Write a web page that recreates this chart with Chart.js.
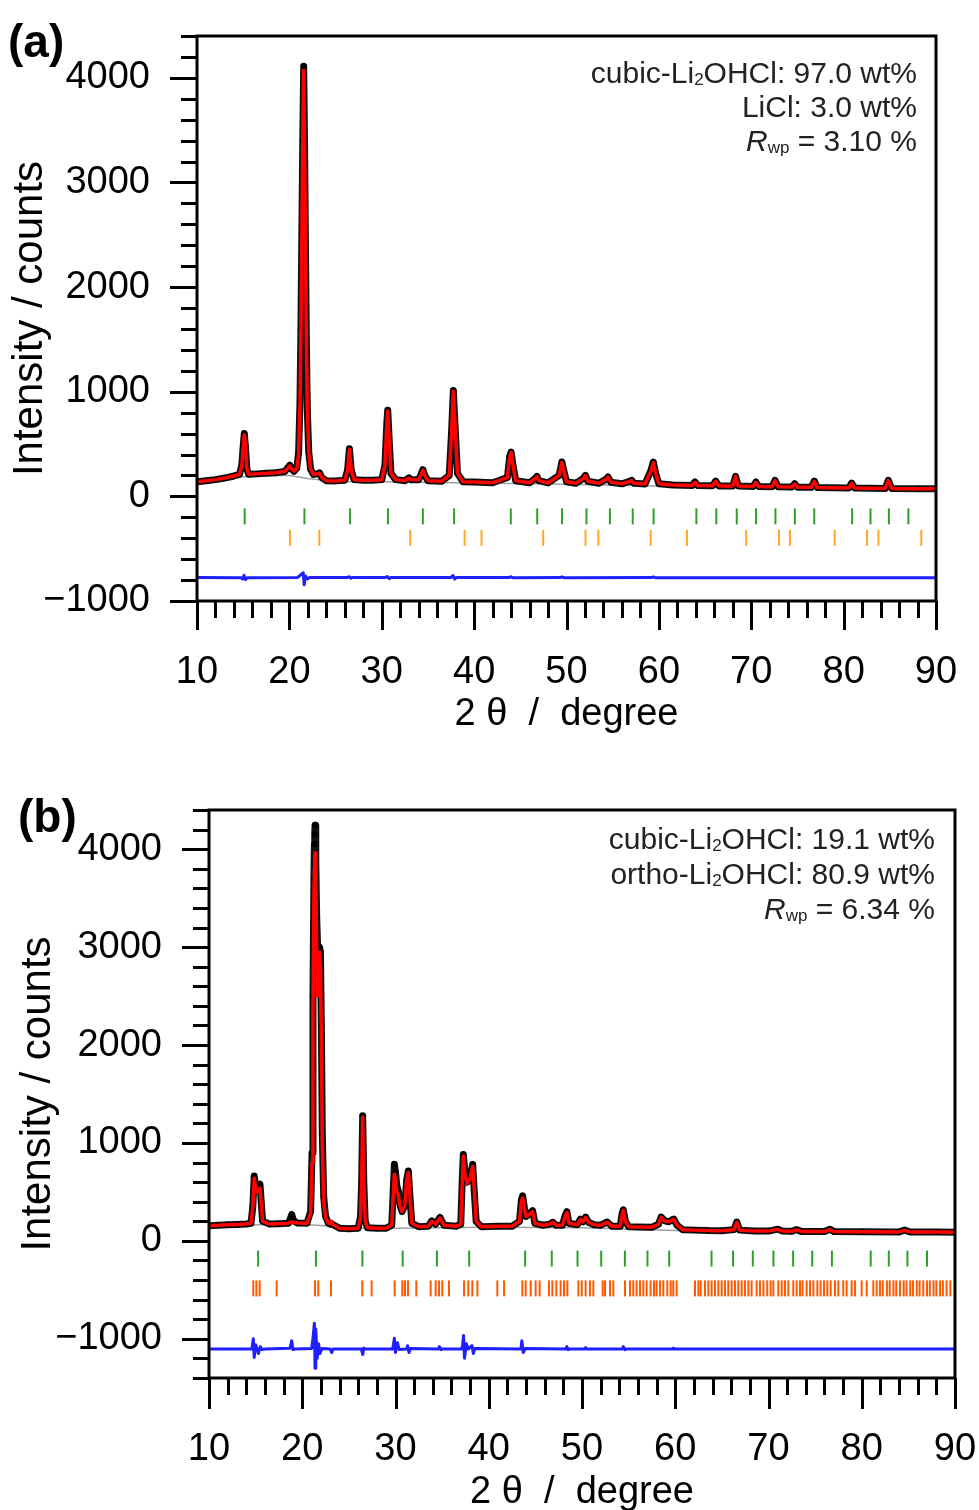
<!DOCTYPE html>
<html><head><meta charset="utf-8">
<script src="https://cdn.jsdelivr.net/npm/chart.js@4.4.1/dist/chart.umd.min.js"></script>
<style>
html,body{margin:0;padding:0;background:#fff;}
body{width:979px;height:1510px;position:relative;overflow:hidden;}
canvas{position:absolute;left:0;}
#ca{top:0;}
#cb{top:765px;}
</style></head><body>
<canvas id="ca" width="979" height="745"></canvas>
<canvas id="cb" width="979" height="745"></canvas>
<script>
// ---------------- DATA : axes ----------------
const xTickValues = [10, 20, 30, 40, 50, 60, 70, 80, 90];
const xTickLabels = ['10', '20', '30', '40', '50', '60', '70', '80', '90'];
const yTickValuesA = [-1000, 0, 1000, 2000, 3000, 4000];
const yTickLabelsA = ['\u22121000', '0', '1000', '2000', '3000', '4000'];
const yTickValuesB = [-1000, 0, 1000, 2000, 3000, 4000];
const yTickLabelsB = ['\u22121000', '0', '1000', '2000', '3000', '4000'];

// ---------------- DATA : panel (a) ----------------
const twoThetaA = [10.0,11.0,12.0,13.0,14.0,14.6,14.85,15.0,15.12,15.25,15.4,15.6,16.5,17.5,18.5,19.5,19.85,20.05,20.25,20.5,20.8,21.0,21.15,21.25,21.35,21.45,21.55,21.65,21.75,21.85,21.95,22.1,22.3,22.6,23.0,23.25,23.5,24.0,25.0,26.0,26.3,26.5,26.7,27.0,28.0,29.0,30.0,30.35,30.55,30.65,30.8,31.0,31.5,32.5,32.95,33.2,34.0,34.3,34.45,34.65,35.0,36.5,37.3,37.55,37.75,37.95,38.2,38.8,40.0,42.0,43.6,43.85,44.0,44.2,44.5,46.0,46.6,46.8,47.0,48.0,49.2,49.5,49.7,50.0,51.0,51.8,52.05,52.3,53.5,54.3,54.5,54.8,56.0,56.85,57.05,57.3,58.5,59.15,59.4,59.65,60.0,61.5,63.6,63.9,64.2,65.8,66.15,66.5,68.0,68.3,68.6,70.2,70.5,70.8,72.25,72.57,72.9,74.4,74.7,75.0,76.5,76.83,77.15,80.55,80.87,81.2,84.5,84.84,85.2,88.0,90.0];
const obsA = [140,150,160,175,195,210,300,480,600,470,260,212,215,220,225,238,275,298,262,240,270,420,900,1600,2500,3400,4110,3300,2300,1400,800,420,260,210,215,225,180,150,148,155,250,456,250,160,155,155,160,300,700,822,550,220,160,150,178,158,160,220,255,200,150,145,200,600,1013,650,220,140,138,130,180,380,424,300,150,130,170,191,150,128,200,328,250,140,125,170,201,145,125,165,185,135,120,145,153,125,118,250,328,220,120,108,104,137,104,102,146,100,98,191,100,95,137,94,92,153,91,89,121,88,86,146,85,80,127,79,76,153,75,72,73];
const calcA = [140,150,160,175,195,210,290,470,590,480,260,212,215,220,225,238,270,292,262,240,265,410,880,1580,2480,3380,4070,3320,2320,1420,810,420,260,210,215,222,180,150,148,155,245,450,250,160,155,155,160,295,690,815,560,220,160,150,175,158,160,218,250,200,150,145,200,590,1005,660,220,140,138,130,180,375,420,300,150,130,168,188,150,128,198,325,250,140,125,168,198,145,125,163,183,135,120,143,150,125,118,245,322,222,120,108,104,135,104,102,143,100,98,188,100,95,134,94,92,150,91,89,119,88,86,143,85,80,124,79,76,150,75,72,73];
const bgThetaA = [10,14,17,20,22,25,30,40,50,60,70,80,90];
const bgA = [135,180,200,200,170,142,140,128,116,100,88,76,68];
const diffThetaA = [10,14.8,14.95,15.1,15.25,15.45,20.9,21.35,21.5,21.6,21.75,21.95,22.2,26.3,26.5,26.65,26.8,30.4,30.6,30.8,31.0,37.5,37.7,37.9,38.1,43.8,44.0,44.2,49.3,49.5,49.7,59.2,59.4,59.6,90];
const diffA = [-775,-778,-790,-755,-795,-778,-775,-740,-730,-845,-760,-790,-775,-775,-768,-782,-775,-775,-766,-786,-775,-775,-756,-790,-775,-776,-768,-778,-776,-770,-777,-776,-770,-777,-777];
const cubicTicksA = [15.16,21.63,26.57,30.67,34.45,37.83,43.97,46.83,49.52,52.16,54.7,57.17,59.43,64.06,66.22,68.43,70.52,72.62,74.72,76.82,80.92,82.91,84.9,87.01];
const liclTicksA = [20.06,23.24,33.09,38.97,40.8,47.48,52.06,53.45,59.11,63.04,69.45,73.0,74.19,79.03,82.54,83.77,88.41];
const cubicRowA = -191;
const liclRowA = -397;

// ---------------- DATA : panel (b) ----------------
const twoThetaB = [10.0,11.0,12.0,13.0,14.0,14.5,14.7,14.85,15.0,15.15,15.3,15.47,15.6,15.75,16.5,17.5,18.5,18.7,18.87,19.05,19.5,20.5,20.9,21.05,21.15,21.25,21.3,21.34,21.37,21.45,21.55,21.65,21.75,21.85,21.95,22.05,22.15,22.3,22.5,22.8,23.0,23.16,23.3,24.0,25.0,26.0,26.25,26.37,26.48,26.6,26.75,27.0,28.0,29.0,29.6,29.75,29.88,30.0,30.15,30.3,30.5,30.7,31.0,31.2,31.38,31.55,31.75,32.5,33.5,33.9,34.3,34.77,35.2,36.5,37.0,37.15,37.27,37.45,37.7,38.0,38.28,38.45,38.65,39.2,41.0,42.5,43.3,43.5,43.63,43.8,44.0,44.4,44.7,44.95,45.8,46.5,46.87,47.2,47.9,48.2,48.38,48.6,49.5,49.84,50.1,50.38,50.7,51.3,52.0,52.7,53.2,54.1,54.3,54.43,54.65,55.0,56.0,57.5,58.2,58.48,58.9,59.3,59.83,60.2,60.8,62.0,63.5,65.0,66.3,66.6,66.9,68.5,70.0,71.0,71.5,72.5,73.0,73.5,76.0,76.6,77.0,80.0,84.0,84.6,85.2,88.0,90.0];
const obsB = [155,160,165,168,172,180,350,663,560,520,560,578,400,200,172,175,180,220,270,210,182,180,300,900,2500,3700,4050,4152,4244,3900,3300,3000,2950,3000,2950,2200,1100,450,250,180,170,175,165,130,125,130,250,600,1279,600,200,135,130,130,160,500,782,700,560,510,360,300,360,620,714,450,180,145,150,205,170,240,160,150,170,600,883,700,600,650,782,500,200,145,150,150,200,420,460,350,250,280,308,180,160,170,190,160,160,260,298,180,165,223,195,243,190,165,160,193,150,150,280,318,200,145,142,140,170,243,205,195,223,160,115,110,105,104,115,193,110,102,100,120,100,98,115,97,95,118,95,93,92,110,91,90,88];
const calcB = [155,160,165,168,172,180,340,640,540,500,520,540,380,200,172,175,180,190,195,190,182,180,280,800,2300,3500,3800,3900,3960,3700,2900,2500,2900,2950,2800,2100,1000,400,240,180,175,200,168,130,125,130,240,580,1265,620,200,135,130,130,160,450,680,620,500,470,350,300,360,620,700,460,180,145,150,200,170,235,160,150,170,560,866,680,580,640,760,520,200,145,150,150,200,400,440,340,250,275,300,180,160,170,190,160,160,255,290,180,165,220,195,240,190,165,160,190,150,150,270,310,200,145,142,140,170,240,200,195,220,160,115,110,105,104,115,190,110,102,100,118,100,98,113,97,95,115,95,93,92,108,91,90,88];
const bgThetaB = [10,15,20,23,26,30,40,50,60,70,80,90];
const bgB = [150,165,170,150,128,128,140,135,105,95,90,86];
const diffThetaB = [10,14.6,14.75,14.85,15.0,15.3,15.5,15.7,16.0,18.7,18.87,19.0,19.2,21.0,21.15,21.3,21.37,21.45,21.6,21.75,21.9,22.1,23.0,23.16,23.3,26.35,26.48,26.6,26.75,29.7,29.88,30.0,30.2,30.4,31.2,31.3,31.45,31.6,34.6,34.7,34.9,35.0,37.1,37.2,37.3,37.4,37.6,37.8,38.2,38.35,38.5,43.45,43.55,43.7,43.9,48.25,48.38,48.5,48.6,50.25,50.38,50.5,54.3,54.43,54.6,54.7,59.7,59.8,59.9,90];
const diffB = [-1105,-1105,-1000,-1190,-1060,-1150,-1080,-1110,-1105,-1095,-1020,-1110,-1105,-1100,-1000,-840,-1300,-900,-1200,-1050,-1150,-1100,-1105,-1140,-1105,-1105,-1160,-1095,-1105,-1105,-995,-1140,-1040,-1110,-1105,-1070,-1140,-1100,-1105,-1080,-1110,-1105,-1105,-1060,-965,-1198,-1050,-1105,-1070,-1150,-1100,-1105,-1020,-1140,-1100,-1105,-1080,-1110,-1105,-1105,-1090,-1105,-1105,-1080,-1110,-1105,-1105,-1095,-1105,-1105];
const cubicTicksB = [15.27,21.47,26.45,30.77,34.44,37.9,43.9,46.76,49.52,52.06,54.6,57.02,59.35,63.89,66.2,68.32,70.53,72.64,74.69,76.8,80.96,82.9,84.9,87.0];
const orthoTicksB = [14.75,15.08,15.43,17.26,21.37,21.72,23.08,26.44,27.44,29.91,30.73,31.02,31.34,32.23,33.77,34.31,34.67,35.02,35.74,37.35,37.81,38.24,38.78,40.92,41.64,43.6,43.96,44.5,45.03,45.46,46.46,46.82,47.25,47.71,48.07,48.43,49.61,49.97,50.39,50.86,51.22,52.22,52.47,53.0,53.36,54.61,55.15,55.5,55.86,56.22,56.58,56.93,57.36,57.72,58.0,58.36,58.72,59.15,59.51,59.79,60.15,62.12,62.48,62.73,63.19,63.55,63.9,64.26,64.62,64.98,65.33,65.69,66.05,66.41,66.76,67.12,67.48,67.84,68.19,68.73,69.09,69.45,69.87,70.23,70.52,71.05,71.41,71.77,72.13,72.66,73.02,73.38,73.66,74.09,74.45,74.81,75.24,75.59,75.95,76.31,76.67,77.13,77.49,78.02,78.38,78.92,79.28,79.99,80.53,81.24,81.6,81.95,82.25,82.7,83.0,83.4,83.7,84.1,84.5,84.8,85.2,85.5,85.9,86.2,86.6,87.0,87.3,87.7,88.0,88.4,88.7,89.1,89.5];
const cubicRowB = -180;
const orthoRowB = -485;

// ---------------- text ----------------
const annotA = [
  [{t:'cubic-Li'},{t:'2',sub:true},{t:'OHCl: 97.0 wt%'}],
  [{t:'LiCl: 3.0 wt%'}],
  [{t:'R',it:true},{t:'wp',sub:true},{t:' = 3.10 %'}]
];
const annotB = [
  [{t:'cubic-Li'},{t:'2',sub:true},{t:'OHCl: 19.1 wt%'}],
  [{t:'ortho-Li'},{t:'2',sub:true},{t:'OHCl: 80.9 wt%'}],
  [{t:'R',it:true},{t:'wp',sub:true},{t:' = 6.34 %'}]
];

// ---------------- rendering ----------------
const SANS = "'Liberation Sans', Arial, sans-serif";
const TICKFONT = {family: SANS, size: 38, lineHeight: 1};

const pts = (xs, ys) => xs.map((x, i) => ({x, y: ys[i]}));
const row = (xs, level) => xs.map(x => ({x, y: level}));
const noPad = ax => { ax.paddingLeft = 0; ax.paddingRight = 0; ax.paddingTop = 0; ax.paddingBottom = 0; };

const frameTicks = {
  id: 'frameTicks',
  afterDraw(chart, args, o) {
    const {ctx, chartArea: a, scales: {x, y}} = chart;
    ctx.save();
    ctx.strokeStyle = '#000';
    ctx.lineWidth = 3;
    for (let v = Math.ceil(y.min / 200) * 200; v <= y.max + 1e-6; v += 200) {
      const major = Math.abs(v % 1000) < 1e-6;
      const p = Math.round(y.getPixelForValue(v)) + 0.5;
      ctx.beginPath(); ctx.moveTo(a.left - (major ? o.yMajor : o.yMinor), p); ctx.lineTo(a.left, p); ctx.stroke();
    }
    for (let v = x.min; v <= x.max + 1e-6; v += 2) {
      const major = Math.abs(v % 10) < 1e-6;
      const p = Math.round(x.getPixelForValue(v)) + 0.5;
      ctx.beginPath(); ctx.moveTo(p, a.bottom); ctx.lineTo(p, a.bottom + (major ? o.xMajor : o.xMinor)); ctx.stroke();
    }
    ctx.strokeRect(a.left, a.top, a.right - a.left, a.bottom - a.top);
    ctx.restore();
  }
};

const annotPlugin = {
  id: 'annot',
  afterDraw(chart, args, o) {
    const ctx = chart.ctx;
    ctx.save();
    ctx.textBaseline = 'alphabetic';
    ctx.textAlign = 'left';
    ctx.fillStyle = '#222';
    const fontFor = s => (s.it ? 'italic ' : '') + (s.sub ? Math.round(o.size * 0.55) : o.size) + 'px ' + SANS;
    o.lines.forEach((segs, i) => {
      const base = o.y0 + i * o.dy;
      let w = 0;
      const parts = segs.map(s => { ctx.font = fontFor(s); const m = ctx.measureText(s.t).width; w += m; return {s, m}; });
      let xx = o.right - w;
      parts.forEach(p => {
        ctx.font = fontFor(p.s);
        ctx.fillText(p.s.t, xx, base + (p.s.sub ? o.size * 0.08 : 0));
        xx += p.m;
      });
    });
    ctx.fillStyle = '#000';
    ctx.font = 'bold ' + o.labelSize + 'px ' + SANS;
    ctx.fillText(o.label, o.labelX, o.labelY);
    ctx.restore();
  }
};

function makeChart(id, cfg) {
  const datasets = [
    {label:'calc', data: pts(cfg.tt, cfg.calc), showLine:true, borderColor:'#ff0000', borderWidth:3.5, pointRadius:0, order:0},
    {label:'obs', data: pts(cfg.tt, cfg.obs), showLine:true, borderColor:'#111', borderWidth:7, pointRadius:3, pointBackgroundColor:'#000', pointBorderWidth:0, order:1},
    {label:'bg', data: pts(cfg.bgT, cfg.bg), showLine:true, borderColor:'rgba(150,150,150,0.9)', borderWidth:1.5, pointRadius:0, order:2},
    {label:'diff', data: pts(cfg.dT, cfg.diff), showLine:true, borderColor:'#1f1fff', borderWidth:3, pointRadius:0, order:3},
    {label:'phase1', data: row(cfg.t1, cfg.r1), showLine:false, pointStyle:'line', rotation:90, pointRadius:8, pointBorderColor:cfg.c1, pointBorderWidth:2, order:4},
    {label:'phase2', data: row(cfg.t2, cfg.r2), showLine:false, pointStyle:'line', rotation:90, pointRadius:8, pointBorderColor:cfg.c2, pointBorderWidth:2, order:5}
  ];
  return new Chart(document.getElementById(id), {
    type: 'scatter',
    data: {datasets},
    plugins: [frameTicks, annotPlugin],
    options: {
      responsive: false, animation: false, devicePixelRatio: 1, events: [],
      layout: {padding: cfg.pad},
      elements: {line: {tension: 0, borderJoinStyle: 'round', borderCapStyle: 'round'}},
      plugins: {
        legend: {display: false}, tooltip: {enabled: false},
        frameTicks: {yMajor: 27, yMinor: 16, xMajor: cfg.xMajor, xMinor: 17},
        annot: cfg.annot
      },
      scales: {
        x: {
          type: 'linear', min: 10, max: 90,
          grid: {display: false, drawTicks: false}, border: {display: false},
          afterBuildTicks: ax => { ax.ticks = xTickValues.map(v => ({value: v})); },
          afterFit: ax => { ax.height = cfg.xH; noPad(ax); },
          ticks: {autoSkip: false, maxRotation: 0, padding: cfg.xPad, color: '#000', font: TICKFONT,
                  callback: v => xTickLabels[xTickValues.indexOf(v)]},
          title: {display: true, text: '2 \u03b8  /  degree', color: '#000',
                  font: {family: SANS, size: 38, lineHeight: 1}, padding: {top: 0, bottom: cfg.xtPad}}
        },
        y: {
          type: 'linear', min: cfg.ymin, max: 4400,
          grid: {display: false, drawTicks: false}, border: {display: false},
          afterBuildTicks: ax => { ax.ticks = cfg.yv.map(v => ({value: v})); },
          afterFit: ax => { ax.width = cfg.yW; noPad(ax); },
          ticks: {autoSkip: false, padding: 47, color: '#000', font: TICKFONT,
                  callback: v => cfg.yl[cfg.yv.indexOf(v)]},
          title: {display: true, text: 'Intensity / counts', color: '#000',
                  font: {family: SANS, size: 42, lineHeight: 1}, padding: {top: cfg.ytPad, bottom: 0}}
        }
      }
    }
  });
}

makeChart('ca', {
  tt: twoThetaA, obs: obsA, calc: calcA, bgT: bgThetaA, bg: bgA, dT: diffThetaA, diff: diffA,
  t1: cubicTicksA, r1: cubicRowA, c1: '#2ca02c', t2: liclTicksA, r2: liclRowA, c2: '#ffa726',
  pad: {top: 36, right: 43, left: 0, bottom: 0}, xH: 144, yW: 197, ymin: -1000,
  yv: yTickValuesA, yl: yTickLabelsA, xPad: 53, xtPad: 11, ytPad: 9, xMajor: 29,
  annot: {lines: annotA, right: 917, y0: 83, dy: 34, size: 30, label: '(a)', labelX: 8, labelY: 57, labelSize: 46}
});
makeChart('cb', {
  tt: twoThetaB, obs: obsB, calc: calcB, bgT: bgThetaB, bg: bgB, dT: diffThetaB, diff: diffB,
  t1: cubicTicksB, r1: cubicRowB, c1: '#2ca02c', t2: orthoTicksB, r2: orthoRowB, c2: '#ff5a00',
  pad: {top: 45, right: 24, left: 0, bottom: 0}, xH: 132, yW: 209, ymin: -1400,
  yv: yTickValuesB, yl: yTickLabelsB, xPad: 53, xtPad: -2, ytPad: 17, xMajor: 31,
  annot: {lines: annotB, right: 935, y0: 84, dy: 35, size: 30, label: '(b)', labelX: 18, labelY: 67, labelSize: 46}
});
</script>
</body></html>
